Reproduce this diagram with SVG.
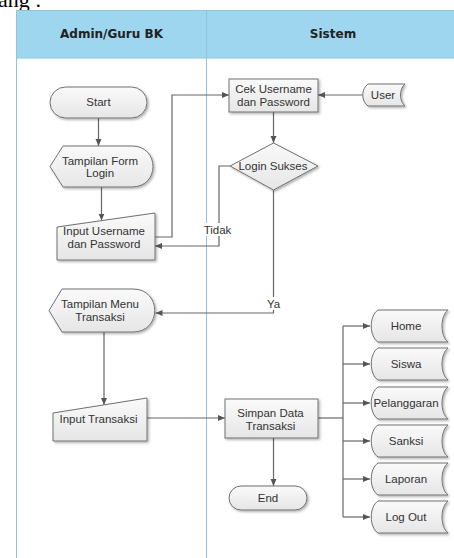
<svg xmlns="http://www.w3.org/2000/svg" width="454" height="558" viewBox="0 0 454 558">
<style>
.lane{fill:#ffffff;stroke:#8cc6d8;stroke-width:1}
.hdr{fill:#9dd6ee;stroke:#8cc6d8;stroke-width:1}
.ht{font-family:"DejaVu Sans",sans-serif;font-weight:bold;font-size:12px;fill:#222;text-anchor:middle}
.shp{fill:url(#g);stroke:#707070;stroke-width:1;filter:url(#sh)}
.t{font-family:"Liberation Sans",Arial,sans-serif;font-size:11.5px;fill:#333;text-anchor:middle}
.c{fill:none;stroke:#666;stroke-width:1.2}
.lbl{fill:#ffffff}
</style>
<defs>
<linearGradient id="g" x1="0" y1="0" x2="0" y2="1">
<stop offset="0" stop-color="#fafafa"/>
<stop offset="1" stop-color="#e6e6e6"/>
</linearGradient>
<filter id="sh" x="-10%" y="-10%" width="130%" height="140%">
<feDropShadow dx="1.5" dy="1.5" stdDeviation="0.8" flood-color="#000" flood-opacity="0.3"/>
</filter>
<marker id="a" markerWidth="8" markerHeight="8" refX="7" refY="4" orient="auto" markerUnits="userSpaceOnUse">
<path d="M0,1 L7,4 L0,7 Z" fill="#555"/>
</marker>
</defs>
<text x="-2" y="7" font-family="Liberation Serif,serif" font-size="22" fill="#000">ang :</text>
<g id="pool">
<rect class="lane" x="16.5" y="10.5" width="450" height="560"/>
<rect class="hdr" x="16.5" y="10.5" width="450" height="47.5"/>
<line x1="206.5" y1="10.5" x2="206.5" y2="558" stroke="#8cc6d8"/>
<text class="ht" x="111.5" y="38">Admin/Guru BK</text>
<text class="ht" x="333" y="38">Sistem</text>
</g>
<g id="connectors">
<path class="c" d="M98.5,118 V146" marker-end="url(#a)"/>
<path class="c" d="M101.5,187 V220.5" marker-end="url(#a)"/>
<path class="c" d="M155,237 H172 V95 H229" marker-end="url(#a)"/>
<path class="c" d="M362,95 H318" marker-end="url(#a)"/>
<path class="c" d="M273.5,112 V143" marker-end="url(#a)"/>
<path class="c" d="M230,166 H219 V246 H155" marker-end="url(#a)"/>
<path class="c" d="M273.5,190 V313 H155.5" marker-end="url(#a)"/>
<path class="c" d="M104,332 V405" marker-end="url(#a)"/>
<path class="c" d="M147,418 H225" marker-end="url(#a)"/>
<path class="c" d="M273.5,438 V486" marker-end="url(#a)"/>
<path class="c" d="M318,418 H343"/>
<path class="c" d="M343,326 V517"/>
<path class="c" d="M343,326 H370" marker-end="url(#a)"/>
<path class="c" d="M343,364 H370" marker-end="url(#a)"/>
<path class="c" d="M343,403 H370" marker-end="url(#a)"/>
<path class="c" d="M343,441 H370" marker-end="url(#a)"/>
<path class="c" d="M343,479 H370" marker-end="url(#a)"/>
<path class="c" d="M343,517 H370" marker-end="url(#a)"/>
<rect class="lbl" x="202" y="223" width="31" height="13"/>
<text class="t" x="217.5" y="234">Tidak</text>
<rect class="lbl" x="264" y="297" width="19" height="13"/>
<text class="t" x="273.5" y="308">Ya</text>
</g>
<g id="start">
<rect class="shp" x="50" y="87" width="97" height="31" rx="15.5"/>
<text class="t" x="98.5" y="106">Start</text>
</g>
<g id="form-login">
<path class="shp" d="M50,166.5 L63,146 H132 C160,146 160,187 132,187 H63 Z"/>
<text class="t" x="100" y="164.5">Tampilan Form</text>
<text class="t" x="100" y="177">Login</text>
</g>
<g id="input-username">
<path class="shp" d="M57,227 L155,213 V260 H57 Z"/>
<text class="t" x="104" y="235">Input Username</text>
<text class="t" x="104" y="247.5">dan Password</text>
</g>
<g id="cek">
<rect class="shp" x="229" y="79" width="89" height="33"/>
<text class="t" x="273.5" y="93">Cek Username</text>
<text class="t" x="273.5" y="105.5">dan Password</text>
</g>
<g id="user">
<path class="shp" d="M368,84 H405 C399,89 399,101 405,106 H368 C361,101 361,89 368,84 Z"/>
<text class="t" x="383" y="99">User</text>
</g>
<g id="login-sukses">
<polygon class="shp" points="273.5,143 318,166 273.5,190 230,166"/>
<text class="t" x="273" y="170">Login Sukses</text>
</g>
<g id="menu-transaksi">
<path class="shp" d="M49,310.5 L62,289 H133 C162,289 162,332 133,332 H62 Z"/>
<text class="t" x="100" y="308">Tampilan Menu</text>
<text class="t" x="100" y="321">Transaksi</text>
</g>
<g id="input-transaksi">
<path class="shp" d="M53,413 L147,398 V441 H53 Z"/>
<text class="t" x="98.5" y="422.5">Input Transaksi</text>
</g>
<g id="simpan">
<rect class="shp" x="225" y="399" width="93" height="39"/>
<text class="t" x="270.5" y="417">Simpan Data</text>
<text class="t" x="270.5" y="429.5">Transaksi</text>
</g>
<g id="end">
<rect class="shp" x="229" y="486" width="78" height="24" rx="12"/>
<text class="t" x="268" y="501.5">End</text>
</g>
<g id="home">
<path class="shp" d="M378,310 H448 C440,316 440,336 448,342 H378 C369,336 369,316 378,310 Z"/>
<text class="t" x="406" y="330">Home</text>
</g>
<g id="siswa">
<path class="shp" d="M378,348 H448 C440,354 440,374 448,380 H378 C369,374 369,354 378,348 Z"/>
<text class="t" x="406" y="368">Siswa</text>
</g>
<g id="pelanggaran">
<path class="shp" d="M378,387 H448 C440,393 440,413 448,419 H378 C369,413 369,393 378,387 Z"/>
<text class="t" x="406" y="407">Pelanggaran</text>
</g>
<g id="sanksi">
<path class="shp" d="M378,425 H448 C440,431 440,451 448,457 H378 C369,451 369,431 378,425 Z"/>
<text class="t" x="406" y="445">Sanksi</text>
</g>
<g id="laporan">
<path class="shp" d="M378,463 H448 C440,469 440,489 448,495 H378 C369,489 369,469 378,463 Z"/>
<text class="t" x="406" y="483">Laporan</text>
</g>
<g id="logout">
<path class="shp" d="M378,501 H448 C440,507 440,527 448,533 H378 C369,527 369,507 378,501 Z"/>
<text class="t" x="406" y="521">Log Out</text>
</g>
</svg>
